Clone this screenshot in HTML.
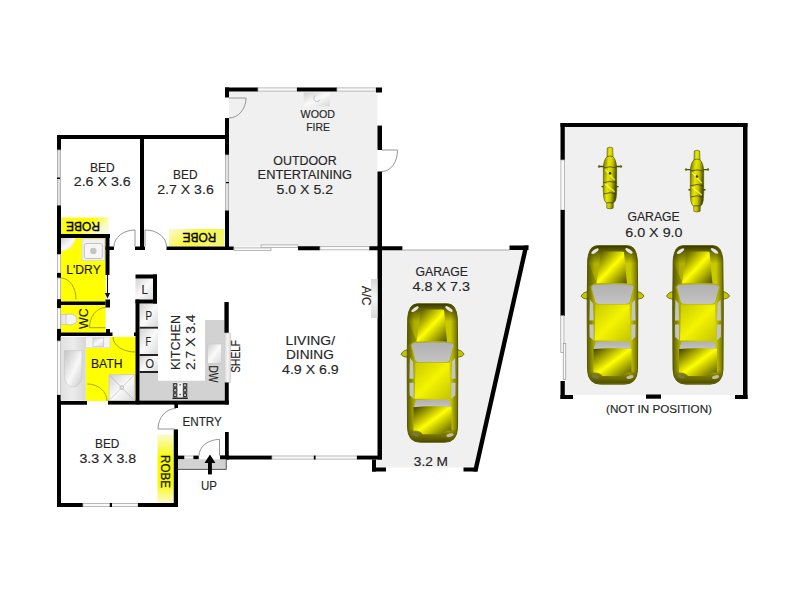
<!DOCTYPE html><html><head><meta charset="utf-8"><style>
html,body{margin:0;padding:0;background:#fff;width:800px;height:600px;overflow:hidden}
svg{display:block;font-family:"Liberation Sans",sans-serif}
</style></head><body>
<svg width="800" height="600" viewBox="0 0 800 600">
<defs>
<linearGradient id="gbox" x1="0" y1="0" x2="1" y2="1"><stop offset="0" stop-color="#d0d0d0"/><stop offset="0.5" stop-color="#fafafa"/><stop offset="1" stop-color="#d8d8d8"/></linearGradient>
<linearGradient id="gtub" x1="0" y1="0" x2="1" y2="0"><stop offset="0" stop-color="#e0e0e0"/><stop offset="0.5" stop-color="#ececec"/><stop offset="1" stop-color="#d6d6d6"/></linearGradient>
<linearGradient id="gbasin" x1="0" y1="0" x2="1" y2="1"><stop offset="0" stop-color="#c4c4c4"/><stop offset="0.55" stop-color="#f8f8f8"/><stop offset="1" stop-color="#c8c8c8"/></linearGradient>
<linearGradient id="gshelfH" x1="0" y1="0" x2="1" y2="0"><stop offset="0" stop-color="#d4d4d4"/><stop offset="0.55" stop-color="#f6f6f6"/><stop offset="1" stop-color="#d8d8d8"/></linearGradient>
<linearGradient id="gshelf" x1="0" y1="0" x2="0" y2="1"><stop offset="0" stop-color="#d8d8d8"/><stop offset="0.5" stop-color="#f8f8f8"/><stop offset="1" stop-color="#d8d8d8"/></linearGradient>
<linearGradient id="grobeV" x1="0" y1="0" x2="0" y2="1"><stop offset="0" stop-color="#fbfbd0"/><stop offset="0.35" stop-color="#f8f800"/><stop offset="0.7" stop-color="#f8f800"/><stop offset="1" stop-color="#fbfbd0"/></linearGradient>
<linearGradient id="grobeH" x1="0" y1="0" x2="1" y2="0.4"><stop offset="0" stop-color="#f8f830"/><stop offset="0.6" stop-color="#ffff00"/><stop offset="1" stop-color="#fafad8"/></linearGradient>
<linearGradient id="grobeH2" x1="0" y1="0" x2="1" y2="0.4"><stop offset="0" stop-color="#fafad8"/><stop offset="0.55" stop-color="#f6f640"/><stop offset="1" stop-color="#f4f470"/></linearGradient>

<linearGradient id="cbody" x1="0" y1="0" x2="1" y2="0"><stop offset="0" stop-color="#5a5a00"/><stop offset="0.14" stop-color="#acac00"/><stop offset="0.5" stop-color="#d0d000"/><stop offset="0.86" stop-color="#c8c800"/><stop offset="1" stop-color="#6a6a00"/></linearGradient>
<linearGradient id="cfront" x1="0" y1="0" x2="0" y2="1"><stop offset="0" stop-color="#3a3a00"/><stop offset="1" stop-color="#3a3a00" stop-opacity="0"/></linearGradient>
<linearGradient id="crear" x1="0" y1="0" x2="0" y2="1"><stop offset="0" stop-color="#6a6a00" stop-opacity="0"/><stop offset="0.4" stop-color="#6a6a00" stop-opacity="0.8"/><stop offset="1" stop-color="#4a4a00"/></linearGradient>
<linearGradient id="chood" x1="0" y1="0" x2="1" y2="1"><stop offset="0" stop-color="#3e3e00"/><stop offset="0.5" stop-color="#ffff00"/><stop offset="1" stop-color="#505000"/></linearGradient>
<linearGradient id="croof" x1="0" y1="0" x2="1" y2="1"><stop offset="0" stop-color="#c8c800"/><stop offset="0.5" stop-color="#f4f400"/><stop offset="1" stop-color="#c4c400"/></linearGradient>
<linearGradient id="cglass" x1="0" y1="0" x2="0" y2="1"><stop offset="0" stop-color="#b0b0b0"/><stop offset="1" stop-color="#c4c4c4"/></linearGradient>
<g id="car">
<path d="M-24,46 Q-29,46 -31.5,50.5 Q-30,53.5 -24,53.5 Z M24,46 Q29,46 31.5,50.5 Q30,53.5 24,53.5 Z" fill="#c4c400" stroke="#5a5a00" stroke-width="0.8"/>
<path d="M-15,0 H15 Q19.5,0.3 21.8,3.5 Q24.2,7.5 24.8,14 L25.3,60 L25,124 Q24.5,138.6 12,138.6 H-12 Q-24.5,138.6 -25,124 L-25.3,60 L-24.8,14 Q-24.2,7.5 -21.8,3.5 Q-19.5,0.3 -15,0 Z" fill="url(#cbody)" stroke="#505000" stroke-width="0.9"/>
<path d="M-15,0.4 H15 Q19.3,0.6 21.5,3.8 Q23.9,7.5 24.5,14 L24.6,18 L-24.6,18 L-24.5,14 Q-23.9,7.5 -21.5,3.8 Q-19.3,0.6 -15,0.4 Z" fill="url(#cfront)"/>
<path d="M-24.6,16 L-16,37 L-20,40 L-25,40 Z" fill="#505000" opacity="0.35"/>
<path d="M-24.8,124 L-24.8,126 L24.8,126 L24.8,124 Q24.5,138.2 12,138.2 H-12 Q-24.5,138.2 -24.8,124 Z" fill="url(#crear)"/>
<rect x="-25" y="126" width="50" height="0" fill="none"/>
<path d="M-11.5,6.5 Q-11,5.8 -9,5.8 H9 Q11,5.8 11.5,6.5 L14.5,38 Q0,37 -16,38 Z" fill="url(#chood)"/>
<ellipse cx="-17.5" cy="5.5" rx="4.3" ry="1.6" fill="#e6e6e6" transform="rotate(-35 -17.5 5.5)"/>
<ellipse cx="16.5" cy="5.3" rx="4.3" ry="1.6" fill="#e6e6e6" transform="rotate(35 16.5 5.3)"/>
<path d="M-21.5,41.5 Q-21,38.8 -17,38.6 Q0,37.6 17,38.6 Q21,38.8 21.5,41.5 L17.8,56 Q17,59 13,59 H-13 Q-17,59 -17.8,56 Z" fill="url(#cglass)" stroke="#a8a800" stroke-width="0.9"/>
<path d="M-17,59 H17 L18,95 H-18 Z" fill="url(#croof)"/>
<path d="M-22.6,54 L-19.5,58 L-18.8,75 L-23,75 Z M-23,79 L-18.8,79 L-18.8,95 L-22.8,91.5 Z" fill="#c4c4c4"/>
<path d="M22.6,54 L19.5,58 L18.8,75 L23,75 Z M23,79 L18.8,79 L18.8,95 L22.8,91.5 Z" fill="#c4c4c4"/>
<path d="M-16.5,96 H16.5 L18.7,103.5 Q0,101.8 -18.7,103.5 Z" fill="url(#cglass)"/>
<path d="M-19,103.5 Q0,101.8 19,103.5 V127 Q13,126 10,130.5 H-10 Q-13,126 -19,127 Z" fill="url(#chood)"/>
<ellipse cx="-17" cy="131" rx="3.6" ry="1.7" fill="#77774a" transform="rotate(15 -17 131)"/>
<ellipse cx="17.5" cy="131.5" rx="3.6" ry="1.7" fill="#c0c0a0" transform="rotate(-15 17.5 131.5)"/>
</g>
<linearGradient id="mbody" x1="0" y1="0" x2="1" y2="0.3"><stop offset="0" stop-color="#5a5a00"/><stop offset="0.45" stop-color="#e8e800"/><stop offset="0.7" stop-color="#c8c800"/><stop offset="1" stop-color="#505000"/></linearGradient>
<g id="moto">
<path d="M-11.5,20 H11.5 M-9,40.5 H9" stroke="#4a4a00" stroke-width="1.4"/>
<circle cx="-11.5" cy="20" r="1.3" fill="#6a6a10"/><circle cx="11.5" cy="20" r="1.3" fill="#6a6a10"/>
<path d="M-2.8,1 Q0,-0.5 2.8,1 L3.2,10 Q6.5,13 7,21 L7,36 Q7.5,44 6.5,52 Q5.5,57 3.5,57 L3.3,62.5 Q0,64 -3.3,62.5 L-3.5,57 Q-5.5,57 -6.5,52 Q-7.5,44 -7,36 L-7,21 Q-6.5,13 -3.2,10 Z" fill="url(#mbody)" stroke="#4a4a00" stroke-width="0.6"/>
<path d="M-3.2,10 Q0,8.5 3.2,10" stroke="#4a4a00" stroke-width="0.7" fill="none"/>
<path d="M-6.8,21.5 Q0,19 6.8,21.5 M-7,36.5 Q0,34 7,36.5 M-6.5,48 Q0,45.5 6.5,48 M-3.5,57 H3.5" stroke="#3a3a00" stroke-width="0.8" fill="none"/>
<path d="M-5,23 L5,34 M-5,38 L5,46" stroke="#ffff60" stroke-width="1.6" opacity="0.7"/>
<circle cx="0" cy="27" r="1.3" fill="#3a3a00"/>
</g>
</defs>

<rect x="229" y="91.5" width="148.5" height="155.0" fill="#f0f0f0" />
<polygon points="382,250 526,250 476,467.5 376,467.5 376,459.5 382,459.5" fill="#f0f0f0"/>
<rect x="564.8" y="127" width="178.2" height="268" fill="#f0f0f0" />
<rect x="61" y="238" width="44.5" height="63.5" fill="#ffff00" />
<rect x="61" y="305" width="44.5" height="27.5" fill="#ffff00" />
<rect x="85.5" y="347.8" width="50.0" height="53.2" fill="#ffff00" />
<rect x="110" y="337" width="25.5" height="11.5" fill="#ffff00" />
<rect x="60.5" y="217.5" width="48.0" height="16.5" fill="url(#grobeH)" />
<rect x="169" y="229" width="55.4" height="17.3" fill="url(#grobeH2)" />
<rect x="157.5" y="434.4" width="16.0" height="68.6" fill="url(#grobeV)" />
<polygon points="139.5,373 158,373 158,380.7 205,380.7 205,320 224.4,320 224.4,400.6 139.5,400.6" fill="#d2d2d2"/>
<rect x="135.5" y="278.5" width="17.5" height="21.0" fill="url(#gbox)" />
<rect x="139.5" y="303.5" width="18.5" height="24.5" fill="url(#gbox)" />
<rect x="139.5" y="328" width="18.5" height="27" fill="url(#gbox)" />
<rect x="139.5" y="355" width="18.5" height="17" fill="url(#gbox)" />
<rect x="139.5" y="326.8" width="18.5" height="1.8" fill="#222" />
<rect x="139.5" y="354" width="18.5" height="2" fill="#222" />
<rect x="139.5" y="371" width="18.5" height="2" fill="#222" />
<rect x="57" y="135" width="172" height="4" fill="#000" />
<rect x="57" y="135" width="4" height="15" fill="#000" />
<rect x="57.4" y="150" width="3.2" height="55.5" fill="#e0e0e0" stroke="#a8a8a8" stroke-width="0.8"/>
<rect x="57" y="177.5" width="3" height="1.5" fill="#000" />
<rect x="57" y="205.5" width="4" height="49.0" fill="#000" />
<rect x="57.4" y="254.5" width="3.2" height="18.5" fill="#fafafa" stroke="#a8a8a8" stroke-width="0.8"/>
<rect x="57" y="273" width="4" height="5" fill="#000" />
<rect x="57.4" y="278" width="3.2" height="21.5" fill="#fafafa" stroke="#a8a8a8" stroke-width="0.8"/>
<rect x="57" y="299.5" width="4" height="8.5" fill="#000" />
<rect x="57.4" y="308" width="3.2" height="21" fill="#fafafa" stroke="#a8a8a8" stroke-width="0.8"/>
<rect x="57" y="329" width="4" height="12" fill="#000" />
<rect x="57.4" y="341" width="3.2" height="54" fill="#fafafa" stroke="#a8a8a8" stroke-width="0.8"/>
<rect x="57" y="395" width="4" height="112" fill="#000" />
<rect x="140" y="135" width="4" height="115" fill="#000" />
<rect x="57" y="234" width="53" height="4" fill="#000" />
<rect x="105.5" y="234" width="4.0" height="41" fill="#000" />
<line x1="107.5" y1="275" x2="107.5" y2="294" stroke="#111" stroke-width="1.1"/>
<polygon points="104.8,293 110.2,293 107.5,298.5" fill="#111"/>
<rect x="57" y="299.5" width="4" height="8.5" fill="#000" />
<rect x="105.5" y="299.5" width="4.5" height="8.0" fill="#000" />
<rect x="61" y="301.5" width="44.5" height="3.5" fill="#000" />
<rect x="57" y="332.5" width="55.5" height="3.5" fill="#000" />
<rect x="106" y="329" width="4" height="7" fill="#000" />
<rect x="134" y="332.5" width="2" height="3.5" fill="#000" />
<rect x="105.5" y="246.5" width="8.5" height="3.5" fill="#000" />
<rect x="135" y="246.5" width="10" height="3.5" fill="#000" />
<rect x="166.5" y="246.5" width="67.25" height="3.5" fill="#000" />
<rect x="225" y="87.5" width="4" height="10.0" fill="#000" />
<rect x="225" y="118" width="4" height="37" fill="#000" />
<rect x="225.4" y="155" width="3.2" height="55.6" fill="#e0e0e0" stroke="#a8a8a8" stroke-width="0.8"/>
<rect x="226" y="182" width="3" height="1.2" fill="#000" />
<rect x="225" y="210.6" width="4" height="39.4" fill="#000" />
<rect x="225" y="87.5" width="33" height="4.0" fill="#000" />
<rect x="258" y="87.9" width="39" height="3.2" fill="#fafafa" stroke="#a8a8a8" stroke-width="0.8"/>
<rect x="297" y="87.5" width="40" height="4.0" fill="#000" />
<rect x="337" y="87.9" width="39" height="3.2" fill="#fafafa" stroke="#a8a8a8" stroke-width="0.8"/>
<rect x="376" y="87.5" width="6" height="5.0" fill="#000" />
<rect x="377.5" y="125.6" width="4.5" height="24.4" fill="#000" />
<rect x="377.5" y="171.5" width="4.5" height="288.0" fill="#000" />
<rect x="234" y="247.9" width="37" height="2.7" fill="#fafafa" stroke="#a8a8a8" stroke-width="0.8"/>
<rect x="261" y="244.9" width="37" height="2.7" fill="#fafafa" stroke="#a8a8a8" stroke-width="0.8"/>
<rect x="298" y="246.25" width="22" height="4.0" fill="#000" />
<rect x="320" y="246.65" width="49.4" height="3.2" fill="#fafafa" stroke="#a8a8a8" stroke-width="0.8"/>
<rect x="369.4" y="246.25" width="33.0" height="4.0" fill="#000" />
<line x1="402.4" y1="250" x2="509.5" y2="250" stroke="#a8a8a8" stroke-width="1"/>
<rect x="509.5" y="245.5" width="19.0" height="4.5" fill="#000" />
<polygon points="524,245.5 528.5,245.5 477.5,471.5 473,471.5" fill="#000"/>
<rect x="463.5" y="467.5" width="14.0" height="4.0" fill="#000" />
<rect x="372" y="459.5" width="4" height="12.0" fill="#000" />
<rect x="372" y="467.5" width="14" height="4.0" fill="#000" />
<rect x="220" y="455.6" width="52" height="3.9" fill="#000" />
<rect x="272" y="456.0" width="85" height="3.1" fill="#fafafa" stroke="#a8a8a8" stroke-width="0.8"/>
<rect x="313.8" y="455.6" width="1.8" height="3.9" fill="#000" />
<rect x="357" y="455.6" width="25" height="3.9" fill="#000" />
<rect x="135.5" y="274.5" width="21.5" height="4.0" fill="#000" />
<rect x="153" y="274.5" width="4" height="29.0" fill="#000" />
<rect x="135.5" y="299.5" width="21.5" height="4.0" fill="#000" />
<rect x="135.5" y="299.5" width="4.0" height="104.9" fill="#000" />
<rect x="224.4" y="302" width="4.35" height="31" fill="#000" />
<rect x="224.4" y="333" width="6.1" height="49.5" fill="url(#gshelfH)" stroke="#c8c8c8" stroke-width="0.6"/>
<rect x="224.75" y="382.5" width="4.0" height="21.9" fill="#000" />
<rect x="57" y="401" width="30" height="3.75" fill="#000" />
<rect x="108" y="400.6" width="120.75" height="4.0" fill="#000" />
<rect x="174.4" y="404" width="3.6" height="4" fill="#000" />
<rect x="173.75" y="429.4" width="4.25" height="77.6" fill="#000" />
<rect x="225" y="432" width="3.75" height="27.4" fill="#000" />
<rect x="178" y="455.6" width="6.4" height="3.8" fill="#000" />
<rect x="184.4" y="456.0" width="9.1" height="3.0" fill="#fafafa" stroke="#a8a8a8" stroke-width="0.8"/>
<rect x="193.5" y="455.6" width="5.25" height="3.8" fill="#000" />
<rect x="220" y="455.6" width="8.75" height="3.8" fill="#000" />
<rect x="178" y="459.4" width="48.25" height="10.0" fill="#d2d2d2" />
<path d="M226.25,459.4 V469.4 H178" fill="none" stroke="#444" stroke-width="0.9"/>
<rect x="57" y="503" width="26" height="4" fill="#000" />
<rect x="83" y="503.4" width="55" height="3.2" fill="#fafafa" stroke="#a8a8a8" stroke-width="0.8"/>
<rect x="109.75" y="503" width="2.25" height="4" fill="#000" />
<rect x="138" y="503" width="40" height="4" fill="#000" />
<rect x="560.5" y="123" width="187.0" height="4" fill="#000" />
<rect x="743" y="123" width="4.5" height="276" fill="#000" />
<rect x="560.5" y="123" width="4.3" height="37" fill="#000" />
<rect x="560.9" y="160" width="3.5" height="50" fill="#fafafa" stroke="#a8a8a8" stroke-width="0.8"/>
<rect x="560.5" y="210" width="4.3" height="106" fill="#000" />
<rect x="560.8" y="315.7" width="3.2" height="36.8" fill="#fafafa" stroke="#a0a0a0" stroke-width="0.8"/>
<rect x="563.3" y="343.5" width="2.4" height="36" fill="#fafafa" stroke="#a0a0a0" stroke-width="0.8"/>
<rect x="560.5" y="381" width="4.3" height="18" fill="#000" />
<rect x="560.5" y="395" width="12.5" height="4" fill="#000" />
<rect x="646" y="394.5" width="15" height="4.2" fill="#000" />
<rect x="735" y="395" width="12.5" height="4" fill="#000" />
<path d="M229,98 H246 A17,20 0 0 1 229,118" stroke="#8a8a8a" stroke-width="0.9" fill="none"/>
<path d="M382,150 H397.5 A15.5,21 0 0 1 382,171.5" stroke="#8a8a8a" stroke-width="0.9" fill="none"/>
<path d="M135,246.5 V230 A21,16.5 0 0 0 114,246.5" stroke="#8a8a8a" stroke-width="0.9" fill="none"/>
<path d="M145,246.5 V230 A21,16.5 0 0 1 166.5,246.5" stroke="#8a8a8a" stroke-width="0.9" fill="none"/>
<path d="M176,408.5 A18,20.5 0 0 0 158,429 H174" stroke="#8a8a8a" stroke-width="0.9" fill="none"/>
<path d="M219.5,455.6 V439.4 A20.5,16.2 0 0 0 199,455.6" stroke="#8a8a8a" stroke-width="0.9" fill="none"/>
<path d="M61,278 A15,21 0 0 1 76,299.5" stroke="#9a9a20" stroke-width="0.9" fill="none"/>
<path d="M105.5,307.5 A16,20.2 0 0 0 89.5,327.7 H105.5" stroke="#9a9a20" stroke-width="0.9" fill="none"/>
<path d="M113,337 A22,15 0 0 0 135,352" stroke="#9a9a20" stroke-width="0.9" fill="none"/>
<path d="M87.5,384 A19.5,17 0 0 1 107,401" stroke="#9a9a20" stroke-width="0.9" fill="none"/>
<rect x="208" y="462" width="3.9" height="12.4" fill="#000" />
<polygon points="204.5,463 209.95,454.4 215.4,463" fill="#000"/>
<rect x="303.75" y="92.5" width="26.25" height="14.0" fill="url(#gbox)" />
<path d="M315.5,95.5 A3.2,3.2 0 1 0 320,99.5" fill="none" stroke="#b0b0b0" stroke-width="0.8"/>
<rect x="371" y="279" width="6.5" height="39" fill="url(#gshelf)" />
<path d="M61,238 H75 A14,13 0 0 1 61,251 Z" fill="url(#gbox)"/>
<rect x="82" y="238.8" width="22.6" height="21.8" fill="#f0f0f0" stroke="#d8d8d8" stroke-width="0.8"/>
<rect x="84.3" y="243.5" width="18" height="15" rx="2" fill="#f6f6f6" stroke="#bdbdbd" stroke-width="0.9"/>
<circle cx="93.3" cy="251" r="3.2" fill="#c4c4c4"/>
<ellipse cx="70" cy="319.5" rx="7" ry="5.5" fill="#f4f4f4" stroke="#bbb" stroke-width="0.8"/>
<rect x="61" y="314.5" width="5" height="10.0" fill="#e8e8e8" stroke="#bbb" stroke-width="0.6"/>
<rect x="60.6" y="336.9" width="25.0" height="63.7" fill="url(#gtub)" />
<path d="M64.4,350.6 H81.9 V376 A8.75,11 0 0 1 64.4,376 Z" fill="url(#gbasin)" stroke="#c0c0c0" stroke-width="0.5"/>
<rect x="85.6" y="337" width="24.4" height="10.8" fill="#f4f4f4" stroke="#d0d0d0" stroke-width="0.6"/>
<rect x="93" y="338" width="10.75" height="8.25" fill="url(#gbox)" stroke="#bcbcbc" stroke-width="0.6"/>
<rect x="109" y="374.7" width="25.5" height="25.9" fill="url(#gbox)" stroke="#c8c8c8" stroke-width="0.8"/>
<path d="M110,375.7 L133.5,399.6 M133.5,375.7 L110,399.6" stroke="#b0b0b0" stroke-width="0.6"/>
<circle cx="121.75" cy="387.6" r="1.8" fill="#e8e8e8" stroke="#a0a0a0" stroke-width="0.7"/>
<rect x="207.7" y="344" width="14.0" height="19.3" fill="url(#gbox)" stroke="#c6c6c6" stroke-width="0.6"/>
<rect x="172.5" y="382.5" width="15.25" height="16.25" fill="#e8e8e8" />
<rect x="172.8" y="383" width="4.8" height="14.5" fill="#5a5a5a" />
<rect x="182.6" y="383" width="4.8" height="14.5" fill="#5a5a5a" />
<circle cx="175.2" cy="385.3" r="1.7" fill="#b8b8b8" stroke="#222" stroke-width="0.8"/>
<circle cx="175.2" cy="390.2" r="1.7" fill="#b8b8b8" stroke="#222" stroke-width="0.8"/>
<circle cx="175.2" cy="395.0" r="1.7" fill="#b8b8b8" stroke="#222" stroke-width="0.8"/>
<circle cx="185.0" cy="385.3" r="1.7" fill="#b8b8b8" stroke="#222" stroke-width="0.8"/>
<circle cx="185.0" cy="390.2" r="1.7" fill="#b8b8b8" stroke="#222" stroke-width="0.8"/>
<circle cx="185.0" cy="395.0" r="1.7" fill="#b8b8b8" stroke="#222" stroke-width="0.8"/>
<rect x="177.6" y="383" width="5.0" height="14.5" fill="#f4f4f4" />
<circle cx="180.1" cy="384.8" r="0.8" fill="#444"/><circle cx="180.1" cy="394.6" r="0.8" fill="#444"/>
<rect x="172.5" y="397.6" width="15.25" height="1.3" fill="#111" />
<use href="#car" transform="translate(432.5,303.7)"/>
<use href="#car" transform="translate(612.5,245.6) scale(1,1)"/>
<use href="#car" transform="translate(698,245.6) scale(1,1)"/>
<use href="#moto" transform="translate(610,146.9) scale(0.95,0.98)"/>
<use href="#moto" transform="translate(697,150) scale(0.95,0.98)"/>
<text x="102.4" y="171.6" font-size="13.2" text-anchor="middle" textLength="24.75" lengthAdjust="spacingAndGlyphs" fill="#262626" stroke="#262626" stroke-width="0.15">BED</text>
<text x="102.2" y="186.25" font-size="13.2" text-anchor="middle" textLength="56.9" lengthAdjust="spacingAndGlyphs" fill="#262626" stroke="#262626" stroke-width="0.15">2.6 X 3.6</text>
<text x="185.25" y="179" font-size="13.2" text-anchor="middle" textLength="24.5" lengthAdjust="spacingAndGlyphs" fill="#262626" stroke="#262626" stroke-width="0.15">BED</text>
<text x="185.5" y="194.4" font-size="13.2" text-anchor="middle" textLength="56.5" lengthAdjust="spacingAndGlyphs" fill="#262626" stroke="#262626" stroke-width="0.15">2.7 X 3.6</text>
<text x="305" y="165" font-size="13.2" text-anchor="middle" textLength="63.4" lengthAdjust="spacingAndGlyphs" fill="#262626" stroke="#262626" stroke-width="0.15">OUTDOOR</text>
<text x="304.8" y="179.2" font-size="13.2" text-anchor="middle" textLength="94.4" lengthAdjust="spacingAndGlyphs" fill="#262626" stroke="#262626" stroke-width="0.15">ENTERTAINING</text>
<text x="304.8" y="194" font-size="13.2" text-anchor="middle" textLength="56.4" lengthAdjust="spacingAndGlyphs" fill="#262626" stroke="#262626" stroke-width="0.15">5.0 X 5.2</text>
<text x="317.8" y="118.2" font-size="10.4" text-anchor="middle" textLength="34.4" lengthAdjust="spacingAndGlyphs" fill="#262626" stroke="#262626" stroke-width="0.15">WOOD</text>
<text x="318.1" y="130.7" font-size="10.4" text-anchor="middle" textLength="23.75" lengthAdjust="spacingAndGlyphs" fill="#262626" stroke="#262626" stroke-width="0.15">FIRE</text>
<text x="0" y="0" font-size="13.2" text-anchor="middle" textLength="34" lengthAdjust="spacingAndGlyphs" fill="#000" transform="translate(83,222) rotate(180)" stroke="#000" stroke-width="0.35">ROBE</text>
<text x="0" y="0" font-size="13.2" text-anchor="middle" textLength="33.75" lengthAdjust="spacingAndGlyphs" fill="#000" transform="translate(199.4,232.6) rotate(180)" stroke="#000" stroke-width="0.35">ROBE</text>
<text x="83.5" y="273.8" font-size="13.2" text-anchor="middle" textLength="34.5" lengthAdjust="spacingAndGlyphs" fill="#151515" stroke="#262626" stroke-width="0.15">L'DRY</text>
<text x="0" y="0" font-size="13.2" text-anchor="middle" textLength="20.75" lengthAdjust="spacingAndGlyphs" fill="#151515" transform="translate(87.8,318.6) rotate(-90)" stroke="#262626" stroke-width="0.15">WC</text>
<text x="106.75" y="367.5" font-size="13.2" text-anchor="middle" textLength="31.5" lengthAdjust="spacingAndGlyphs" fill="#151515" stroke="#262626" stroke-width="0.15">BATH</text>
<text x="144.75" y="293.5" font-size="13.2" text-anchor="middle" textLength="6.5" lengthAdjust="spacingAndGlyphs" fill="#262626" stroke="#262626" stroke-width="0.15">L</text>
<text x="148.75" y="320" font-size="13.2" text-anchor="middle" textLength="6.5" lengthAdjust="spacingAndGlyphs" fill="#262626" stroke="#262626" stroke-width="0.15">P</text>
<text x="148.25" y="345.5" font-size="13.2" text-anchor="middle" textLength="5.5" lengthAdjust="spacingAndGlyphs" fill="#262626" stroke="#262626" stroke-width="0.15">F</text>
<text x="149.75" y="367.5" font-size="13.2" text-anchor="middle" textLength="8.5" lengthAdjust="spacingAndGlyphs" fill="#262626" stroke="#262626" stroke-width="0.15">O</text>
<text x="0" y="0" font-size="13.2" text-anchor="middle" textLength="55" lengthAdjust="spacingAndGlyphs" fill="#262626" transform="translate(180,342.5) rotate(-90)" stroke="#262626" stroke-width="0.15">KITCHEN</text>
<text x="0" y="0" font-size="13.2" text-anchor="middle" textLength="55.6" lengthAdjust="spacingAndGlyphs" fill="#262626" transform="translate(195,342.2) rotate(-90)" stroke="#262626" stroke-width="0.15">2.7 X 3.4</text>
<text x="0" y="0" font-size="13.2" text-anchor="middle" textLength="16.9" lengthAdjust="spacingAndGlyphs" fill="#262626" transform="translate(208.75,374) rotate(90)" stroke="#262626" stroke-width="0.15">DW</text>
<text x="0" y="0" font-size="13.2" text-anchor="middle" textLength="32.7" lengthAdjust="spacingAndGlyphs" fill="#262626" transform="translate(239.7,356.3) rotate(-90)" stroke="#262626" stroke-width="0.15">SHELF</text>
<text x="202.2" y="425.6" font-size="13.2" text-anchor="middle" textLength="39.4" lengthAdjust="spacingAndGlyphs" fill="#262626" stroke="#262626" stroke-width="0.15">ENTRY</text>
<text x="0" y="0" font-size="13.2" text-anchor="middle" textLength="33" lengthAdjust="spacingAndGlyphs" fill="#111" transform="translate(160.6,471.5) rotate(90)" stroke="#111" stroke-width="0.25">ROBE</text>
<text x="209" y="489.75" font-size="13.2" text-anchor="middle" textLength="16" lengthAdjust="spacingAndGlyphs" fill="#262626" stroke="#262626" stroke-width="0.15">UP</text>
<text x="107.2" y="447.75" font-size="13.2" text-anchor="middle" textLength="24.4" lengthAdjust="spacingAndGlyphs" fill="#262626" stroke="#262626" stroke-width="0.15">BED</text>
<text x="107.8" y="463" font-size="13.2" text-anchor="middle" textLength="56.85" lengthAdjust="spacingAndGlyphs" fill="#262626" stroke="#262626" stroke-width="0.15">3.3 X 3.8</text>
<text x="310.25" y="344.5" font-size="13.2" text-anchor="middle" textLength="49.5" lengthAdjust="spacingAndGlyphs" fill="#262626" stroke="#262626" stroke-width="0.15">LIVING/</text>
<text x="309.9" y="358.75" font-size="13.2" text-anchor="middle" textLength="47.75" lengthAdjust="spacingAndGlyphs" fill="#262626" stroke="#262626" stroke-width="0.15">DINING</text>
<text x="310.4" y="373.75" font-size="13.2" text-anchor="middle" textLength="56.75" lengthAdjust="spacingAndGlyphs" fill="#262626" stroke="#262626" stroke-width="0.15">4.9 X 6.9</text>
<text x="0" y="0" font-size="13.2" text-anchor="middle" textLength="19.5" lengthAdjust="spacingAndGlyphs" fill="#262626" transform="translate(361.5,295.75) rotate(90)" stroke="#262626" stroke-width="0.15">A/C</text>
<text x="441.75" y="275.75" font-size="13.2" text-anchor="middle" textLength="52.5" lengthAdjust="spacingAndGlyphs" fill="#262626" stroke="#262626" stroke-width="0.15">GARAGE</text>
<text x="441.25" y="290.75" font-size="13.2" text-anchor="middle" textLength="57.5" lengthAdjust="spacingAndGlyphs" fill="#262626" stroke="#262626" stroke-width="0.15">4.8 X 7.3</text>
<text x="430.9" y="465.5" font-size="13.2" text-anchor="middle" textLength="34.25" lengthAdjust="spacingAndGlyphs" fill="#262626" stroke="#262626" stroke-width="0.15">3.2 M</text>
<text x="653.6" y="221.4" font-size="13.2" text-anchor="middle" textLength="52.2" lengthAdjust="spacingAndGlyphs" fill="#262626" stroke="#262626" stroke-width="0.15">GARAGE</text>
<text x="653.9" y="236.5" font-size="13.2" text-anchor="middle" textLength="57.25" lengthAdjust="spacingAndGlyphs" fill="#262626" stroke="#262626" stroke-width="0.15">6.0 X 9.0</text>
<text x="659" y="412.6" font-size="11.8" text-anchor="middle" textLength="105.9" lengthAdjust="spacingAndGlyphs" fill="#262626" stroke="#262626" stroke-width="0.15">(NOT IN POSITION)</text>
</svg></body></html>
